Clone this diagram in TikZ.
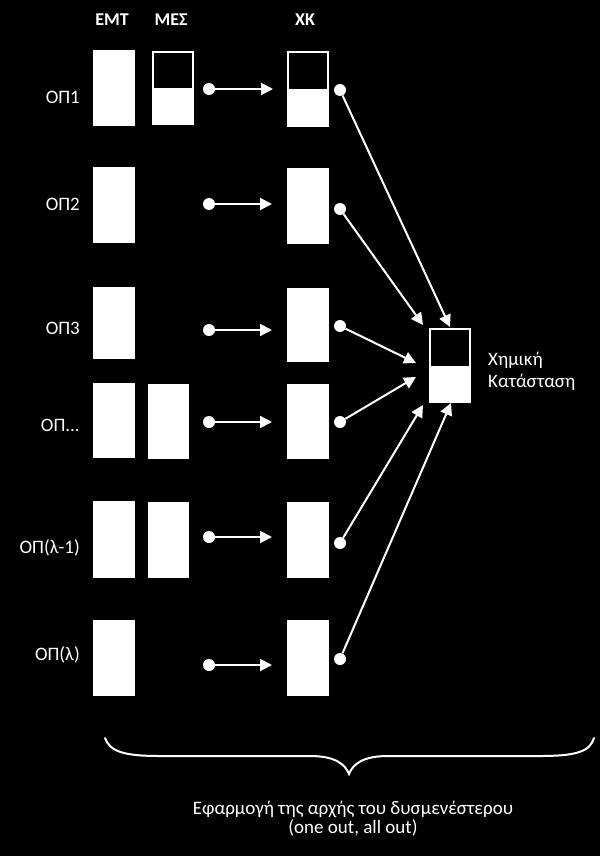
\documentclass[tikz,border=0pt]{standalone}
\usepackage{fontspec}
\setmainfont{Carlito}
\usetikzlibrary{arrows.meta}
\begin{document}
\begin{tikzpicture}[x=1pt,y=-1pt,
  wbox/.style={draw=none,fill=white,inner sep=0pt,outer sep=0pt,minimum width=42pt},
  sbox/.style={draw=white,line width=2pt,fill=black,inner sep=0pt,outer sep=0pt,minimum width=40pt},
  dot/.style={circle,fill=white,inner sep=0pt,minimum size=12pt},
  lbl/.style={text=white,inner sep=0pt,font=\fontsize{19}{19}\selectfont},
  hdr/.style={text=white,inner sep=0pt,font=\fontsize{18}{18}\selectfont\bfseries},
  conn/.style={draw=white,line width=2pt,-{Triangle[length=12pt,width=12pt]}}
]
\fill[black] (0,0) rectangle (600,856);
\useasboundingbox (0,0) rectangle (600,856);

% headers
\node[hdr] (hE) at (112,20) {ΕΜΤ};
\node[hdr] (hM) at (171,20) {ΜΕΣ};
\node[hdr] (hX) at (305,20) {ΧΚ};

% row labels
\node[lbl,anchor=east] (l1) at (80,97) {ΟΠ1};
\node[lbl,anchor=east] (l2) at (80,204) {ΟΠ2};
\node[lbl,anchor=east] (l3) at (80,328) {ΟΠ3};
\node[lbl,anchor=east] (l4) at (80,425) {ΟΠ...};
\node[lbl,anchor=east] (l5) at (80,548) {ΟΠ(λ-1)};
\node[lbl,anchor=east] (l6) at (80,655) {ΟΠ(λ)};

% EMT column
\node[wbox,minimum height=76pt] (e1) at (114,88) {};
\node[wbox,minimum height=76pt] (e2) at (114,205) {};
\node[wbox,minimum height=72pt] (e3) at (114,323) {};
\node[wbox,minimum height=75pt] (e4) at (114,420.5) {};
\node[wbox,minimum height=77pt] (e5) at (114,539.5) {};
\node[wbox,minimum height=76pt] (e6) at (114,658) {};

% MES column
\node[sbox,minimum height=72pt] (m1) at (172.5,88) {};
\fill[white] (m1.west) rectangle (m1.south east);
\node[wbox,minimum width=41pt,minimum height=75pt] (m4) at (168.5,421.5) {};
\node[wbox,minimum width=41pt,minimum height=76pt] (m5) at (168.5,540) {};

% XK column
\node[sbox,minimum height=74pt] (x1) at (308,89) {};
\fill[white] (x1.west) rectangle (x1.south east);
\node[wbox,minimum height=76pt] (x2) at (308,206) {};
\node[wbox,minimum height=74pt] (x3) at (308,325) {};
\node[wbox,minimum height=75pt] (x4) at (308,421.5) {};
\node[wbox,minimum height=76pt] (x5) at (308,540) {};
\node[wbox,minimum height=76pt] (x6) at (308,658) {};

% left dots
\node[dot] (a1) at (209,89) {};
\node[dot] (a2) at (209,204) {};
\node[dot] (a3) at (209,330) {};
\node[dot] (a4) at (209,422) {};
\node[dot] (a5) at (209,537) {};
\node[dot] (a6) at (209,665) {};

% horizontal arrows
\foreach \i in {1,...,6}{
  \draw[conn,shorten >=15pt] (a\i) -- (a\i -| x\i.west);
}

% right dots
\node[dot] (b1) at (340,90) {};
\node[dot] (b2) at (340,209) {};
\node[dot] (b3) at (340,326) {};
\node[dot] (b4) at (340,422) {};
\node[dot] (b5) at (340,543) {};
\node[dot] (b6) at (340,659) {};

% chemical state box
\node[sbox,minimum height=73pt] (cs) at (450,365.5) {};
\fill[white] (cs.west) rectangle (cs.south east);
\node[lbl,anchor=west,align=left,font=\fontsize{19}{22}\selectfont] (csl) at (488,371) {Χημική\\Κατάσταση};

% arrow tips
\coordinate (t1) at (450,327);
\coordinate (t2) at (423,325);
\coordinate (t3) at (416,363);
\coordinate (t4) at (416,377);
\coordinate (t5) at (423,405);
\coordinate (t6) at (451,403);
\foreach \i in {1,...,6}{
  \draw[conn] (b\i) -- (t\i);
}

% brace
\draw[white,line width=2pt,line cap=round]
  (105,738) .. controls (110,752) and (125,756) .. (160,756) -- (310,756)
  .. controls (335,756) and (345,764) .. (349,774)
  .. controls (353,764) and (363,756) .. (388,756) -- (540,756)
  .. controls (575,756) and (590,752) .. (594,738);
\coordinate (brtip) at (349,774);

\node[lbl,align=center] (note) at (353,819) {Εφαρμογή της αρχής του δυσμενέστερου\\(one out, all out)};
\end{tikzpicture}
\end{document}
